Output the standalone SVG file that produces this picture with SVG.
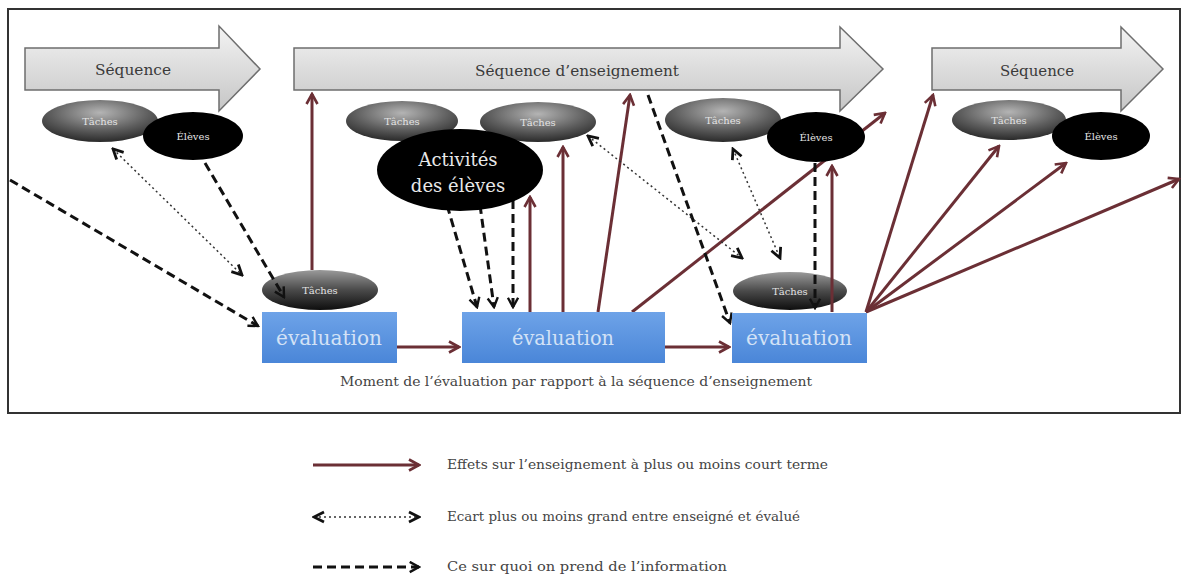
<svg xmlns="http://www.w3.org/2000/svg" width="1182" height="578" viewBox="0 0 1182 578">
<style>
.blk{fill:url(#gArrow);stroke:#6e6e6e;stroke-width:1.5}
.seq{font-family:"DejaVu Serif","Liberation Serif",serif;font-size:15px;fill:#3a3a3a;text-anchor:middle}
.tk{fill:url(#gTask)}
.ltk{fill:url(#gLowTask)}
.el{fill:#000}
.small{font-family:"DejaVu Serif","Liberation Serif",serif;font-size:10px;fill:#e4e4e4;text-anchor:middle}
.act{font-family:"DejaVu Serif","Liberation Serif",serif;font-size:18px;fill:#e8e8e8;text-anchor:middle}
.ev{fill:url(#gEval)}
.evt{font-family:"DejaVu Serif","Liberation Serif",serif;font-size:20px;fill:#d3e2f6;text-anchor:middle}
.cap{font-family:"DejaVu Serif","Liberation Serif",serif;font-size:12px;fill:#444}
.sol{fill:none;stroke:#6b2f35;stroke-width:3;marker-end:url(#hR)}
.dsh{fill:none;stroke:#111;stroke-width:3;stroke-dasharray:9 5;marker-end:url(#hK)}
.dot{fill:none;stroke:#333;stroke-width:1.5;stroke-dasharray:2 3;marker-start:url(#hD);marker-end:url(#hD)}
</style>
<defs>
<linearGradient id="gArrow" x1="0" y1="0" x2="0" y2="1"><stop offset="0" stop-color="#f3f3f3"/><stop offset="1" stop-color="#c6c6c6"/></linearGradient>
<radialGradient id="gTask" cx="0.5" cy="0.3" r="0.7"><stop offset="0" stop-color="#b4b4b4"/><stop offset="0.6" stop-color="#5e5e5e"/><stop offset="1" stop-color="#2a2a2a"/></radialGradient>
<linearGradient id="gLowTask" x1="0" y1="0" x2="0" y2="1"><stop offset="0" stop-color="#9a9a9a"/><stop offset="0.5" stop-color="#4a4a4a"/><stop offset="1" stop-color="#0e0e0e"/></linearGradient>
<linearGradient id="gEval" x1="0" y1="0" x2="0" y2="1"><stop offset="0" stop-color="#6ea3e8"/><stop offset="1" stop-color="#4a86d8"/></linearGradient>
<marker id="hR" viewBox="0 0 14 14" refX="12" refY="7" markerWidth="14" markerHeight="14" markerUnits="userSpaceOnUse" orient="auto-start-reverse"><path d="M2,1.5 L12,7 L2,12.5" fill="none" stroke="#6b2f35" stroke-width="2.6"/></marker>
<marker id="hK" viewBox="0 0 14 14" refX="12" refY="7" markerWidth="13" markerHeight="13" markerUnits="userSpaceOnUse" orient="auto-start-reverse"><path d="M2,1.5 L12,7 L2,12.5" fill="none" stroke="#111" stroke-width="2.6"/></marker>
<marker id="hD" viewBox="0 0 14 14" refX="12" refY="7" markerWidth="14" markerHeight="14" markerUnits="userSpaceOnUse" orient="auto-start-reverse"><path d="M2,2 L12,7 L2,12" fill="none" stroke="#111" stroke-width="2.8"/></marker>
</defs>
<rect x="0" y="0" width="1182" height="578" fill="#fff"/>
<rect id="frame" x="8" y="9" width="1172" height="404" fill="none" stroke="#333" stroke-width="2"/>

<g id="seq1"><path class="blk" d="M25,48 L219,48 L219,26 L260,69 L219,111 L219,90 L25,90 Z"/><text class="seq" x="133" y="75" textLength="76" lengthAdjust="spacingAndGlyphs">Séquence</text></g>
<g id="seq2"><path class="blk" d="M294,48 L840,48 L840,27 L883,69 L840,111 L840,90 L294,90 Z"/><text class="seq" x="577" y="76" textLength="204" lengthAdjust="spacingAndGlyphs">Séquence d’enseignement</text></g>
<g id="seq3"><path class="blk" d="M932,48 L1121,48 L1121,27 L1163,69 L1121,111 L1121,90 L932,90 Z"/><text class="seq" x="1037" y="76" textLength="74" lengthAdjust="spacingAndGlyphs">Séquence</text></g>

<g id="lowtask1"><ellipse class="ltk" cx="320" cy="290" rx="58" ry="20"/><text class="small" x="320" y="294">Tâches</text></g>
<g id="lowtask2"><ellipse class="ltk" cx="790" cy="291" rx="57" ry="19"/><text class="small" x="790" y="295">Tâches</text></g>

<g id="connectors">
<line class="sol" x1="312" y1="270" x2="312" y2="94"/>
<line class="sol" x1="397" y1="347" x2="459" y2="347"/>
<line class="sol" x1="665" y1="347" x2="729" y2="347"/>
<line class="sol" x1="530" y1="312" x2="530" y2="197"/>
<line class="sol" x1="563" y1="312" x2="563" y2="147"/>
<line class="sol" x1="598" y1="312" x2="630" y2="95"/>
<line class="sol" x1="632" y1="312" x2="885" y2="113"/>
<line class="sol" x1="832" y1="312" x2="832" y2="166"/>
<line class="sol" x1="866" y1="312" x2="933" y2="95"/>
<line class="sol" x1="866" y1="312" x2="999" y2="146"/>
<line class="sol" x1="866" y1="312" x2="1066" y2="163"/>
<line class="sol" x1="866" y1="312" x2="1179" y2="179"/>
<line class="dsh" x1="10" y1="180" x2="258" y2="326"/>
<line class="dsh" x1="205" y1="163" x2="284" y2="297"/>
<line class="dsh" x1="447" y1="205" x2="477" y2="307"/>
<line class="dsh" x1="480" y1="205" x2="494" y2="307"/>
<line class="dsh" x1="513" y1="200" x2="513" y2="307"/>
<line class="dsh" x1="648" y1="95" x2="730" y2="323"/>
<line class="dsh" x1="815" y1="163" x2="815" y2="308"/>
<line class="dot" x1="113" y1="149" x2="242" y2="275"/>
<line class="dot" x1="588" y1="136" x2="742" y2="258"/>
<line class="dot" x1="733" y1="149" x2="780" y2="258"/>
</g>

<g id="task1"><ellipse class="tk" cx="100" cy="121" rx="58" ry="21"/><text class="small" x="100" y="125">Tâches</text></g>
<g id="eleves1"><ellipse class="el" cx="193" cy="136" rx="50" ry="24"/><text class="small" x="193" y="140">Élèves</text></g>
<g id="task2"><ellipse class="tk" cx="402" cy="121" rx="56" ry="20"/><text class="small" x="402" y="125">Tâches</text></g>
<g id="task3"><ellipse class="tk" cx="538" cy="122" rx="58" ry="20"/><text class="small" x="538" y="126">Tâches</text></g>
<g id="activites"><ellipse class="el" cx="460" cy="170" rx="83" ry="41"/><text class="act" x="458" y="166">Activités</text><text class="act" x="458" y="192">des élèves</text></g>
<g id="task4"><ellipse class="tk" cx="723" cy="120" rx="58" ry="22"/><text class="small" x="723" y="124">Tâches</text></g>
<g id="eleves2"><ellipse class="el" cx="816" cy="137" rx="49" ry="25"/><text class="small" x="816" y="141">Élèves</text></g>
<g id="task5"><ellipse class="tk" cx="1009" cy="120" rx="57" ry="20"/><text class="small" x="1009" y="124">Tâches</text></g>
<g id="eleves3"><ellipse class="el" cx="1101" cy="136" rx="49" ry="24"/><text class="small" x="1101" y="140">Élèves</text></g>

<g id="eval1"><rect class="ev" x="262" y="312" width="135" height="51"/><text class="evt" x="329" y="345" textLength="106" lengthAdjust="spacingAndGlyphs">évaluation</text></g>
<g id="eval2"><rect class="ev" x="462" y="312" width="203" height="51"/><text class="evt" x="563" y="345" textLength="102" lengthAdjust="spacingAndGlyphs">évaluation</text></g>
<g id="eval3"><rect class="ev" x="732" y="313" width="135" height="50"/><text class="evt" x="799" y="345" textLength="106" lengthAdjust="spacingAndGlyphs">évaluation</text></g>

<text class="cap" x="340" y="386" textLength="472" lengthAdjust="spacingAndGlyphs">Moment de l’évaluation par rapport à la séquence d’enseignement</text>

<g id="legend">
<line class="sol" x1="313" y1="465" x2="419" y2="465"/>
<text class="cap" x="447" y="469" font-size="11" fill="#4a3434" textLength="381" lengthAdjust="spacingAndGlyphs">Effets sur l’enseignement à plus ou moins court terme</text>
<line class="dot" x1="314" y1="517" x2="419" y2="517"/>
<text class="cap" x="447" y="521" font-size="11" textLength="353" lengthAdjust="spacingAndGlyphs">Ecart plus ou moins grand entre enseigné et évalué</text>
<line class="dsh" x1="313" y1="567" x2="419" y2="567" stroke-dasharray="10 7"/>
<text class="cap" x="447" y="571" font-size="11" textLength="280" lengthAdjust="spacingAndGlyphs">Ce sur quoi on prend de l’information</text>
</g>
</svg>
